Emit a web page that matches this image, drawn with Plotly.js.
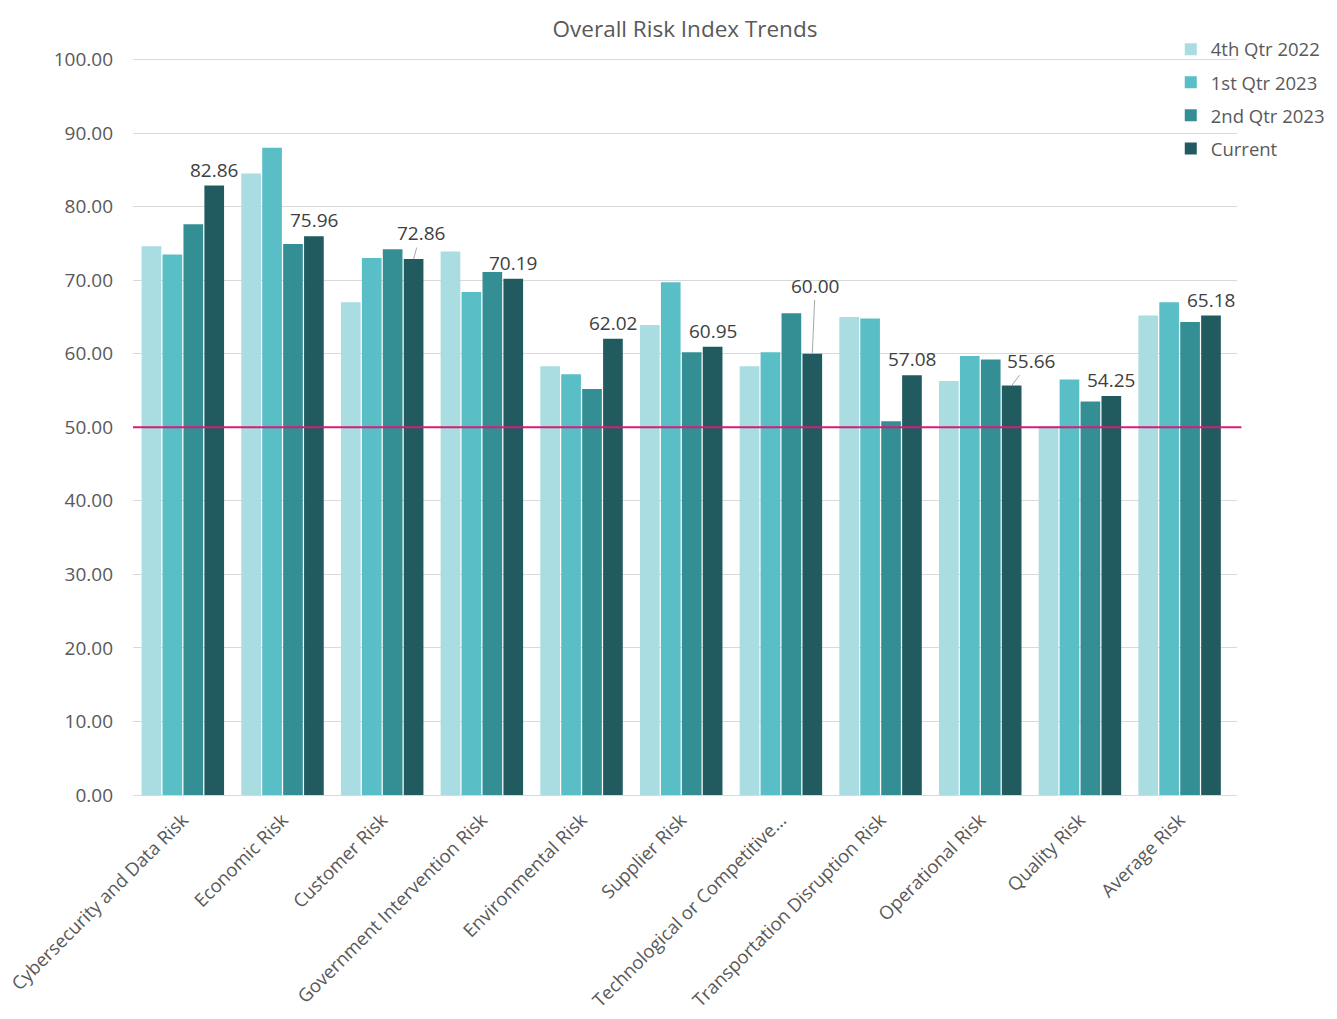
<!DOCTYPE html>
<html>
<head>
<meta charset="utf-8">
<script src="https://cdn.plot.ly/plotly-3.0.1.min.js"></script>
<style>
  html, body { margin: 0; padding: 0; background: #ffffff; }
  #chart { width: 1337px; height: 1019px; }
</style>
</head>
<body>
<div id="chart"></div>
<script>
// Risk categories along the x axis
const categories = [
  'Cybersecurity and Data Risk',
  'Economic Risk',
  'Customer Risk',
  'Government Intervention Risk',
  'Environmental Risk',
  'Supplier Risk',
  'Technological or Competitive...',
  'Transportation Disruption Risk',
  'Operational Risk',
  'Quality Risk',
  'Average Risk'
];

// Quarterly index values per category
const q4_2022 = [74.6, 84.5, 67.0, 73.9, 58.3, 63.9, 58.3, 65.0, 56.3, 50.1, 65.2];
const q1_2023 = [73.5, 88.0, 73.0, 68.4, 57.2, 69.7, 60.2, 64.8, 59.7, 56.5, 67.0];
const q2_2023 = [77.6, 74.9, 74.2, 71.1, 55.2, 60.2, 65.5, 50.8, 59.2, 53.5, 64.3];
const current = [82.86, 75.96, 72.86, 70.19, 62.02, 60.95, 60.00, 57.08, 55.66, 54.25, 65.18];

const seriesNames = ['4th Qtr 2022', '1st Qtr 2023', '2nd Qtr 2023', 'Current'];
const seriesColors = ['#a9dde2', '#5abec6', '#348f95', '#215b5f'];

// Benchmark reference level
const threshold = 50;

const FONT = 'Open Sans, Lato, Liberation Sans, sans-serif';
const BARGAP = 0.16;
const GROUPGAP = 0.06;

const seriesValues = [q4_2022, q1_2023, q2_2023, current];
const traces = seriesValues.map((vals, k) => ({
  type: 'bar',
  name: seriesNames[k],
  legendgroup: 'g' + k,
  x: categories,
  y: vals,
  marker: { color: seriesColors[k], line: { width: 0 } },
  hoverinfo: 'x+y+name'
}));

// Centre of the last bar in each group, relative to the category centre
const lastOffset = (1 - BARGAP) * (3.5 / 4 - 0.5);

// Labels on the "Current" bars; a few are pushed away with a leader line
const leader = {
  2: { ax: 7, ay: -26 },
  6: { ax: 3, ay: -68 },
  8: { ax: 19, ay: -25 }
};
const annotations = current.map((v, i) => {
  const base = {
    x: i + lastOffset,
    y: v,
    xref: 'x',
    yref: 'y',
    text: v.toFixed(2),
    font: { family: FONT, size: 19, color: '#404040' }
  };
  if (leader[i]) {
    return Object.assign(base, {
      showarrow: true,
      arrowhead: 0,
      arrowwidth: 1,
      arrowcolor: '#a6a6a6',
      standoff: 0,
      ax: leader[i].ax,
      ay: leader[i].ay
    });
  }
  return Object.assign(base, { showarrow: false, yanchor: 'middle', yshift: 16 });
});

const layout = {
  width: 1337,
  height: 1019,
  margin: { l: 133, r: 100, t: 57.5, b: 224, autoexpand: false },
  paper_bgcolor: '#ffffff',
  plot_bgcolor: '#ffffff',
  font: { family: FONT, color: '#595959' },
  title: {
    text: 'Overall Risk Index Trends',
    font: { family: FONT, size: 22.5, color: '#595959' },
    x: 0.5,
    xref: 'paper',
    xanchor: 'center',
    y: 1 - 29 / 1019,
    yanchor: 'middle'
  },
  barmode: 'group',
  bargap: BARGAP,
  bargroupgap: GROUPGAP,
  xaxis: {
    type: 'category',
    tickangle: -45,
    tickfont: { family: FONT, size: 18.5, color: '#595959' },
    showgrid: false,
    showline: true,
    linecolor: '#d9d9d9',
    linewidth: 1,
    ticks: '',
    ticklabelstandoff: 6,
    automargin: false
  },
  yaxis: {
    range: [0, 100.2],
    tickvals: [0, 10, 20, 30, 40, 50, 60, 70, 80, 90, 100],
    tickformat: '.2f',
    tickfont: { family: FONT, size: 19, color: '#595959' },
    gridcolor: '#d9d9d9',
    gridwidth: 1,
    zeroline: false,
    showline: false,
    ticks: '',
    ticklabelstandoff: 19,
    automargin: false
  },
  legend: {
    x: 0.94,
    xanchor: 'left',
    y: 1.037,
    yanchor: 'top',
    bgcolor: 'rgba(0,0,0,0)',
    font: { family: FONT, size: 18.5, color: '#595959' },
    itemwidth: 30,
    tracegroupgap: 6,
    traceorder: 'grouped'
  },
  shapes: [{
    type: 'line',
    xref: 'paper',
    yref: 'y',
    x0: 0,
    x1: 1.004,
    y0: threshold,
    y1: threshold,
    line: { color: '#d81b7a', width: 2 }
  }],
  annotations: annotations,
  showlegend: true
};

Plotly.newPlot('chart', traces, layout, { displayModeBar: false, staticPlot: true });
</script>
</body>
</html>
